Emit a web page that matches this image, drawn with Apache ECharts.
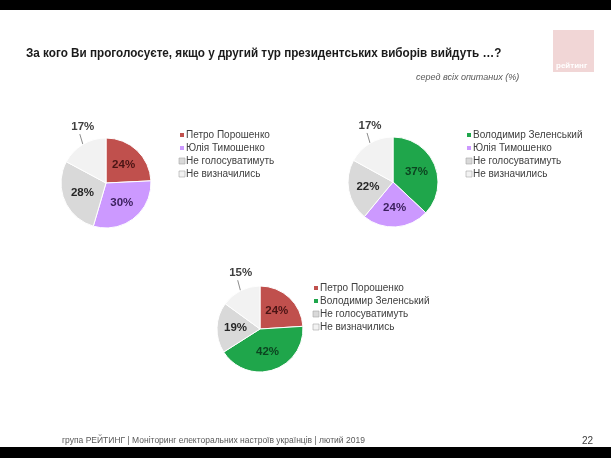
<!DOCTYPE html>
<html><head><meta charset="utf-8">
<script src="https://cdn.jsdelivr.net/npm/echarts@6/dist/echarts.min.js"></script>
<style>html,body{margin:0;padding:0;background:#000;}#c{width:611px;height:458px;}</style>
</head><body><div id="c"></div>
<script>
const titleText = 'За кого Ви проголосуєте, якщо у другий тур президентських виборів вийдуть …?';
const subtitleText = 'серед всіх опитаних (%)';
const footerText = 'група РЕЙТИНГ | Моніторинг електоральних настроїв українців | лютий 2019';
const pageNum = '22';
const logoText = 'рейтинг';

const names1 = ['Петро Порошенко', 'Юлія Тимошенко', 'Не голосуватимуть', 'Не визначились'];
const values1 = [24, 30, 28, 17];
const names2 = ['Володимир Зеленський', 'Юлія Тимошенко', 'Не голосуватимуть', 'Не визначились'];
const values2 = [37, 24, 22, 17];
const names3 = ['Петро Порошенко', 'Володимир Зеленський', 'Не голосуватимуть', 'Не визначились'];
const values3 = [24, 42, 19, 15];

const colorMap = {
  'Петро Порошенко': '#c0504d',
  'Юлія Тимошенко': '#cc99ff',
  'Володимир Зеленський': '#1fa64b',
  'Не голосуватимуть': '#d9d9d9',
  'Не визначились': '#f2f2f2'
};
const labelColorMap = {
  'Петро Порошенко': '#4a1414',
  'Юлія Тимошенко': '#3a1f5c',
  'Володимир Зеленський': '#0c4420',
  'Не голосуватимуть': '#262626',
  'Не визначились': '#262626'
};
const FONT = '"Liberation Sans", Arial, sans-serif';

function pieData(names, values) {
  return names.map((n, i) => {
    const outside = n === 'Не визначились';
    return {
      name: n, value: values[i],
      itemStyle: { color: colorMap[n] },
      label: outside ? { position: 'outside', color: '#404040' } : { position: 'inside', color: labelColorMap[n] },
      labelLine: { show: outside }
    };
  });
}
function pieSeries(names, values, center, r) {
  return {
    type: 'pie', center: center, radius: r, startAngle: 90, clockwise: true,
    avoidLabelOverlap: false, animation: false,
    itemStyle: { borderColor: '#ffffff', borderWidth: 1 },
    label: { formatter: '{c}%', fontFamily: FONT, fontWeight: 'bold', fontSize: 11.5 },
    labelLine: { length: 5, length2: 2, lineStyle: { color: '#8c8c8c', width: 1 } },
    labelLayout: function (p) {
      if (p.dataIndex !== 3) return {};
      const dx = 21, dy = -13;
      const out = { dx: dx, dy: dy };
      if (p.labelLinePoints && p.labelLinePoints.length) {
        const start = p.labelLinePoints[0];
        const lr = p.labelRect;
        const end = [lr.x + lr.width / 2 + dx - 3, lr.y + lr.height + dy + 1];
        out.labelLinePoints = [start, end];
      }
      return out;
    },
    data: pieData(names, values)
  };
}
function legendData(names) {
  return names.map(n => ({
    name: n,
    itemStyle: (n === 'Не голосуватимуть' || n === 'Не визначились') ? { borderColor: '#a6a6a6', borderWidth: 0.6 } : {}
  }));
}
function legend(names, left, top) {
  return {
    orient: 'vertical', left: left, top: top, icon: 'rect', padding: 0,
    itemWidth: 6, itemHeight: 6, itemGap: 1,
    textStyle: { fontFamily: FONT, fontSize: 10, color: '#404040', padding: [0, 0, 0, -4], lineHeight: 12 },
    selectedMode: false,
    data: legendData(names)
  };
}

const chart = echarts.init(document.getElementById('c'), null, { renderer: 'canvas' });
chart.setOption({
  backgroundColor: '#ffffff',
  animation: false,
  title: [
    { text: subtitleText, left: 416, top: 73, padding: 0, textStyle: { fontFamily: FONT, fontStyle: 'italic', fontWeight: 'normal', fontSize: 9, color: '#595959' } },
    { text: pageNum, left: 582, top: 436, padding: 0, textStyle: { fontFamily: FONT, fontWeight: 'normal', fontSize: 10, color: '#404040' } }
  ],
  legend: [
    legend(names1, 178, 129),
    legend(names2, 465, 129),
    legend(names3, 312, 282)
  ],
  graphic: [
    { type: 'rect', shape: { x: 0, y: 0, width: 611, height: 10 }, style: { fill: '#000' }, silent: true },
    { type: 'rect', shape: { x: 0, y: 447, width: 611, height: 11 }, style: { fill: '#000' }, silent: true },
    { type: 'rect', shape: { x: 553, y: 30, width: 41, height: 42 }, style: { fill: '#f1d6d6' }, silent: true },
    { type: 'text', x: 556, y: 62, style: { text: logoText, fill: '#ffffff', font: 'bold 8px ' + FONT }, silent: true },
    { type: 'text', x: 26, y: 53, scaleX: 0.9, style: { text: titleText, fill: '#1a1a1a', font: 'bold 13px ' + FONT, verticalAlign: 'middle' }, silent: true },
    { type: 'text', x: 62, y: 441, style: { text: footerText, fill: '#595959', font: '8.5px ' + FONT, verticalAlign: 'middle' }, silent: true }
  ],
  series: [
    pieSeries(names1, values1, [106, 183], 45),
    pieSeries(names2, values2, [393, 182], 45),
    pieSeries(names3, values3, [260, 329], 43)
  ]
});
</script></body></html>
